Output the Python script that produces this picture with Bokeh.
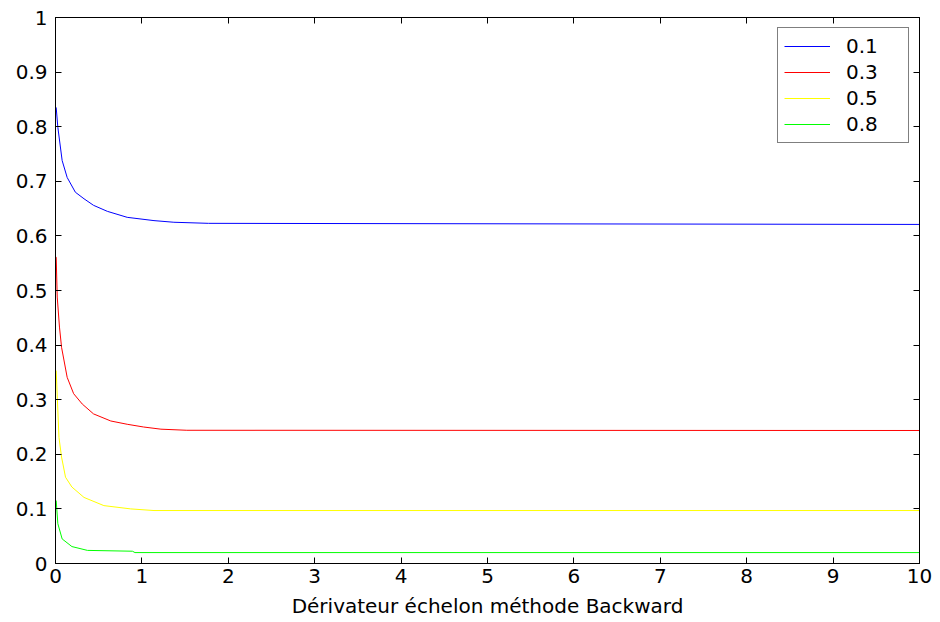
from bokeh.plotting import figure
from bokeh.models import FixedTicker, LinearAxis, CustomJSTickFormatter, Legend, LegendItem, Range1d
from bokeh.embed import file_html
from bokeh.resources import INLINE

labels = ["0.1", "0.3", "0.5", "0.8"]
colors = ["#0000ff", "#ff0000", "#ffff00", "#00ff00"]

x_01 = [0, 0, 0.008, 0.027, 0.077, 0.135, 0.23, 0.33, 0.44, 0.60, 0.83, 1.14, 1.37, 1.77, 10]
y_01 = [1, 0.835, 0.835, 0.799, 0.738, 0.707, 0.680, 0.668, 0.656, 0.645, 0.634, 0.628, 0.625, 0.623, 0.621]

x_03 = [0, 0, 0.008, 0.02, 0.046, 0.07, 0.135, 0.21, 0.31, 0.44, 0.64, 0.83, 1.02, 1.22, 1.52, 10]
y_03 = [1, 0.561, 0.561, 0.488, 0.433, 0.396, 0.341, 0.311, 0.292, 0.274, 0.261, 0.255, 0.250, 0.246, 0.244, 0.2436]

x_05 = [0, 0, 0.008, 0.04, 0.07, 0.116, 0.19, 0.33, 0.56, 0.87, 1.14, 10]
y_05 = [1, 0.353, 0.353, 0.231, 0.195, 0.158, 0.140, 0.121, 0.106, 0.100, 0.097, 0.097]

x_08 = [0, 0, 0.008, 0.027, 0.077, 0.19, 0.37, 0.89, 0.92, 10]
y_08 = [1, 0.115, 0.115, 0.073, 0.045, 0.031, 0.024, 0.0225, 0.020, 0.020]

xs = [x_01, x_03, x_05, x_08]
ys = [y_01, y_03, y_05, y_08]

x_ticks = [0, 1, 2, 3, 4, 5, 6, 7, 8, 9, 10]
y_ticks = [0, 0.1, 0.2, 0.3, 0.4, 0.5, 0.6, 0.7, 0.8, 0.9, 1]
x_label = "Dérivateur échelon méthode Backward"

FONT = "DejaVu Sans"
FS = "20px"

p = figure(width=940, height=622, output_backend="svg", toolbar_location=None,
           x_range=Range1d(0, 10), y_range=Range1d(0, 1),
           min_border_left=55, min_border_right=21, min_border_top=17, min_border_bottom=58)
p.frame_width = 864
p.frame_height = 546
p.outline_line_color = "black"
p.outline_line_width = 1
p.xgrid.visible = False
p.ygrid.visible = False
p.background_fill_color = "white"
p.border_fill_color = "white"

fmt = CustomJSTickFormatter(code="return String(Math.round(tick*10)/10);")
blank = CustomJSTickFormatter(code="return '';")

def style(ax):
    ax.major_tick_in = 6
    ax.major_tick_out = 0
    ax.minor_tick_in = 0
    ax.minor_tick_out = 0
    ax.axis_line_color = "black"
    ax.major_tick_line_color = "black"
    ax.major_label_text_font = FONT
    ax.major_label_text_font_size = FS
    ax.major_label_text_color = "black"

p.xaxis.ticker = FixedTicker(ticks=x_ticks)
p.yaxis.ticker = FixedTicker(ticks=y_ticks)
p.xaxis.formatter = fmt
p.yaxis.formatter = fmt
style(p.xaxis[0])
style(p.yaxis[0])
p.xaxis.major_label_standoff = 5
p.yaxis.major_label_standoff = 8
p.xaxis.axis_label = x_label
p.xaxis.axis_label_text_font = FONT
p.xaxis.axis_label_text_font_size = FS
p.xaxis.axis_label_text_font_style = "normal"
p.xaxis.axis_label_text_color = "black"
p.xaxis.axis_label_standoff = 8

top = LinearAxis(ticker=FixedTicker(ticks=x_ticks), formatter=blank)
style(top)
top.major_label_standoff = 0
p.add_layout(top, "above")
right = LinearAxis(ticker=FixedTicker(ticks=y_ticks), formatter=blank)
style(right)
right.major_label_standoff = 0
p.add_layout(right, "right")

items = []
for x, y, c, lab in zip(xs, ys, colors, labels):
    r = p.line(x, y, line_color=c, line_width=1)
    items.append(LegendItem(label=lab, renderers=[r]))

legend = Legend(items=items, location="top_right")
legend.margin = 10
legend.padding = 6
legend.border_line_color = "black"
legend.border_line_width = 1
legend.label_text_font = FONT
legend.label_text_font_size = FS
legend.label_text_color = "black"
legend.glyph_width = 46
legend.label_standoff = 16
legend.glyph_height = 20
legend.label_height = 20
legend.spacing = 2
legend.label_width = 56
legend.background_fill_alpha = 1
p.add_layout(legend, "center")

open("out.html", "w").write(file_html(p, INLINE))
